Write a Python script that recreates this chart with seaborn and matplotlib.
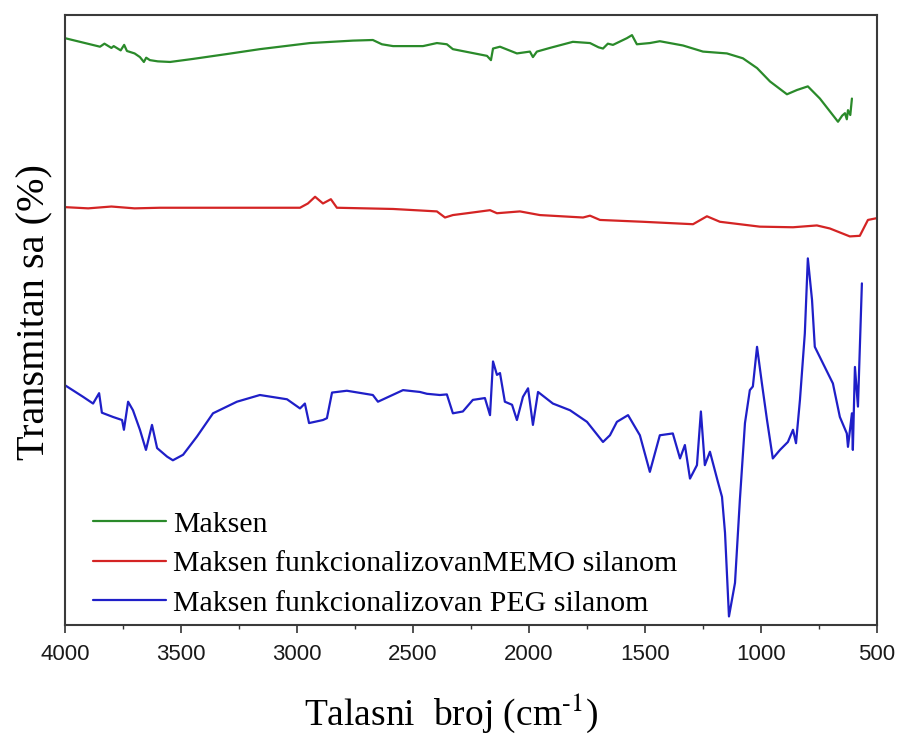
import numpy as np
import pandas as pd
import matplotlib
matplotlib.use("Agg")
import matplotlib.pyplot as plt
from matplotlib.ticker import MultipleLocator
import seaborn as sns

# FTIR spectra (wavenumber in cm^-1, stacked transmittance in arbitrary offset units)
maksen_wn = [4000, 3849, 3830, 3800, 3790, 3760, 3745, 3733, 3700, 3677, 3660, 3650,
             3634, 3600, 3547, 3448, 3302, 3160, 2944, 2759, 2673, 2634, 2586, 2457,
             2397, 2354, 2328, 2181, 2164, 2155, 2125, 2052, 1996, 1983, 1966, 1910,
             1811, 1737, 1700, 1681, 1660, 1638, 1578, 1556, 1535, 1479, 1436, 1336,
             1250, 1147, 1078, 1017, 961, 888, 845, 798, 746, 668, 650, 638, 630,
             625, 615, 608]
maksen_t = [96.2, 94.8, 95.3, 94.6, 94.9, 94.2, 95.1, 94.1, 93.7, 93.1, 92.3, 93.0,
            92.6, 92.4, 92.3, 92.8, 93.6, 94.4, 95.4, 95.8, 95.9, 95.2, 94.9, 94.9,
            95.4, 95.2, 94.4, 93.3, 92.6, 94.5, 94.8, 93.7, 94.0, 93.1, 94.0, 94.6,
            95.6, 95.4, 94.7, 94.5, 95.3, 95.1, 96.2, 96.7, 95.2, 95.4, 95.7, 95.0,
            94.0, 93.7, 92.9, 91.3, 89.1, 87.0, 87.7, 88.3, 86.3, 82.5, 83.5, 83.9,
            82.9, 84.4, 83.6, 86.3]

memo_wn = [4000, 3900, 3800, 3700, 3591, 2987, 2953, 2922, 2888, 2854, 2828, 2586,
           2397, 2362, 2328, 2267, 2168, 2138, 2039, 1953, 1767, 1737, 1694, 1509,
           1293, 1233, 1177, 1005, 862, 759, 703, 617, 574, 539, 500]
memo_t = [68.5, 68.3, 68.6, 68.3, 68.4, 68.4, 69.1, 70.2, 69.1, 69.8, 68.4, 68.2,
          67.8, 66.8, 67.2, 67.5, 68.0, 67.5, 67.8, 67.2, 66.8, 67.1, 66.4, 66.1,
          65.7, 67.0, 66.1, 65.3, 65.2, 65.5, 65.0, 63.7, 63.8, 66.4, 66.7]

peg_wn = [4000, 3922, 3879, 3853, 3841, 3793, 3754, 3746, 3728, 3707, 3677, 3651,
          3625, 3603, 3560, 3535, 3491, 3431, 3362, 3259, 3160, 3043, 2987, 2966,
          2948, 2888, 2871, 2849, 2785, 2673, 2651, 2543, 2470, 2440, 2384, 2354,
          2328, 2285, 2242, 2190, 2168, 2155, 2138, 2125, 2104, 2073, 2052, 2026,
          2004, 1983, 1961, 1897, 1823, 1750, 1681, 1651, 1621, 1573, 1522, 1479,
          1436, 1380, 1349, 1328, 1306, 1276, 1259, 1242, 1220, 1186, 1168, 1155,
          1138, 1112, 1091, 1069, 1048, 1035, 1017, 996, 974, 949, 918, 884, 862,
          849, 832, 811, 798, 780, 768, 733, 690, 660, 630, 625, 608, 604, 595,
          582, 565]
peg_t = [39.3, 37.4, 36.3, 38.0, 34.8, 34.1, 33.6, 32.0, 36.6, 35.2, 32.0, 28.7,
         32.8, 29.0, 27.6, 27.0, 27.9, 30.9, 34.7, 36.6, 37.7, 37.0, 35.5, 36.3,
         33.1, 33.6, 33.9, 38.1, 38.4, 37.7, 36.6, 38.5, 38.2, 37.9, 37.7, 37.8,
         34.7, 35.0, 36.9, 37.2, 34.4, 43.2, 41.0, 41.3, 36.6, 36.1, 33.6, 37.4,
         38.8, 32.8, 38.2, 36.3, 35.2, 33.3, 30.0, 31.1, 33.3, 34.4, 31.1, 25.1,
         31.1, 31.4, 27.3, 29.5, 24.0, 26.2, 35.0, 26.2, 28.4, 23.5, 21.0, 15.1,
         1.4, 6.9, 20.5, 33.1, 38.5, 39.1, 45.6, 39.6, 33.6, 27.3, 28.7, 30.0, 32.0,
         29.8, 36.9, 47.8, 60.1, 53.3, 45.6, 42.9, 39.6, 34.1, 31.4, 29.2, 34.7,
         28.7, 42.3, 35.8, 56.0]

labels = ["Maksen",
          "Maksen funkcionalizovanMEMO silanom",
          "Maksen funkcionalizovan PEG silanom"]
colors = ["#2a8a2a", "#d42424", "#1f1fc8"]

df = pd.concat([
    pd.DataFrame({"wn": maksen_wn, "T": maksen_t, "sample": labels[0]}),
    pd.DataFrame({"wn": memo_wn, "T": memo_t, "sample": labels[1]}),
    pd.DataFrame({"wn": peg_wn, "T": peg_t, "sample": labels[2]}),
], ignore_index=True)

sns.set_theme(style="white")
plt.rcParams["font.family"] = ["Liberation Sans", "DejaVu Sans"]
plt.rcParams["mathtext.fontset"] = "stix"
plt.rcParams["text.color"] = "black"
plt.rcParams["axes.labelcolor"] = "black"

fig = plt.figure(figsize=(8.99, 7.35), dpi=100)
ax = fig.add_axes([0.0723, 0.1497, 0.9032, 0.8299])

sns.lineplot(data=df, x="wn", y="T", hue="sample", palette=colors,
             estimator=None, sort=False, linewidth=1.6, ax=ax)

ax.set_xlim(4000, 500)
ax.set_ylim(0, 100)
ax.xaxis.set_major_locator(MultipleLocator(500))
ax.xaxis.set_minor_locator(MultipleLocator(250))
ax.set_yticks([])
ax.tick_params(axis="x", which="major", direction="out", length=6, width=1.2,
               color="#333333", labelsize=16, labelcolor="#1a1a1a", pad=8, bottom=True)
ax.tick_params(axis="x", which="minor", direction="out", length=3, width=1.0,
               color="#333333", bottom=True)
for s in ax.spines.values():
    s.set_color("#3a3a3a")
    s.set_linewidth(1.5)

ax.set_xlabel(r"Talasni  broj (cm$^{\text{-1}}$)", fontsize=27,
              family="Liberation Serif")
ax.xaxis.set_label_coords(0.476, -0.108)
ax.set_ylabel("Transmitan sa (%)", fontsize=29, family="Liberation Serif")
ax.yaxis.set_label_coords(-0.014, 0.513)

leg = ax.legend(loc="lower left", bbox_to_anchor=(0.012, -0.016), frameon=False,
                prop={"family": "Liberation Serif", "size": 21.5},
                handlelength=2.45, handletextpad=0.25, labelspacing=0.42,
                borderaxespad=0.2)
for h in leg.get_lines():
    h.set_linewidth(1.6)

fig.savefig("out.png", dpi=100)
